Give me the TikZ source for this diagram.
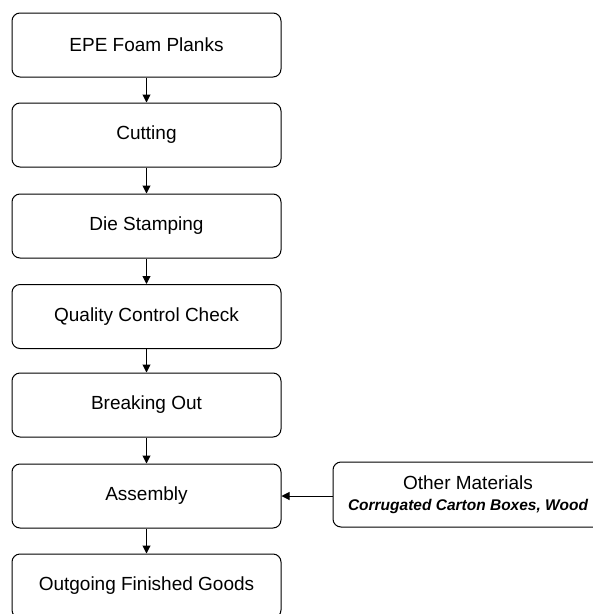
\documentclass[tikz,border=0pt]{standalone}
\usepackage{fontspec}
\setmainfont{Liberation Sans}
\usetikzlibrary{arrows.meta}
\begin{document}
\begin{tikzpicture}[x=1pt,y=-1pt,
  stepbox/.style={draw=black, line width=1pt, rounded corners=8pt, minimum width=269pt, minimum height=64pt, inner sep=0pt, font=\fontsize{19}{22}\selectfont},
  flow/.style={line width=1pt, -{Triangle[length=8pt,width=8pt]}}]
\useasboundingbox (0,0) rectangle (593,614);
\clip (0,0) rectangle (593,614);
\node[stepbox] (a) at (146.5,45) {EPE Foam Planks};
\node[stepbox] (b) at (146.5,135) {Cutting};
\node[stepbox] (c) at (146.5,226) {Die Stamping};
\node[stepbox] (d) at (146.5,316.5) {Quality Control Check};
\node[stepbox] (e) at (146.5,405) {Breaking Out};
\node[stepbox] (f) at (146.5,496) {Assembly};
\node[stepbox] (g) at (146.5,586) {Outgoing Finished Goods};
\node[stepbox, minimum width=270pt, minimum height=65pt, align=center] (o) at (468,494.5) {Other Materials\\[-1pt]{\fontsize{15.5}{17}\selectfont\bfseries\itshape Corrugated Carton Boxes, Wood}};
\draw[flow] (a) -- (b);
\draw[flow] (b) -- (c);
\draw[flow] (c) -- (d);
\draw[flow] (d) -- (e);
\draw[flow] (e) -- (f);
\draw[flow] (f) -- (g);
\draw[flow] (o.west |- f.east) -- (f.east);
\end{tikzpicture}
\end{document}
